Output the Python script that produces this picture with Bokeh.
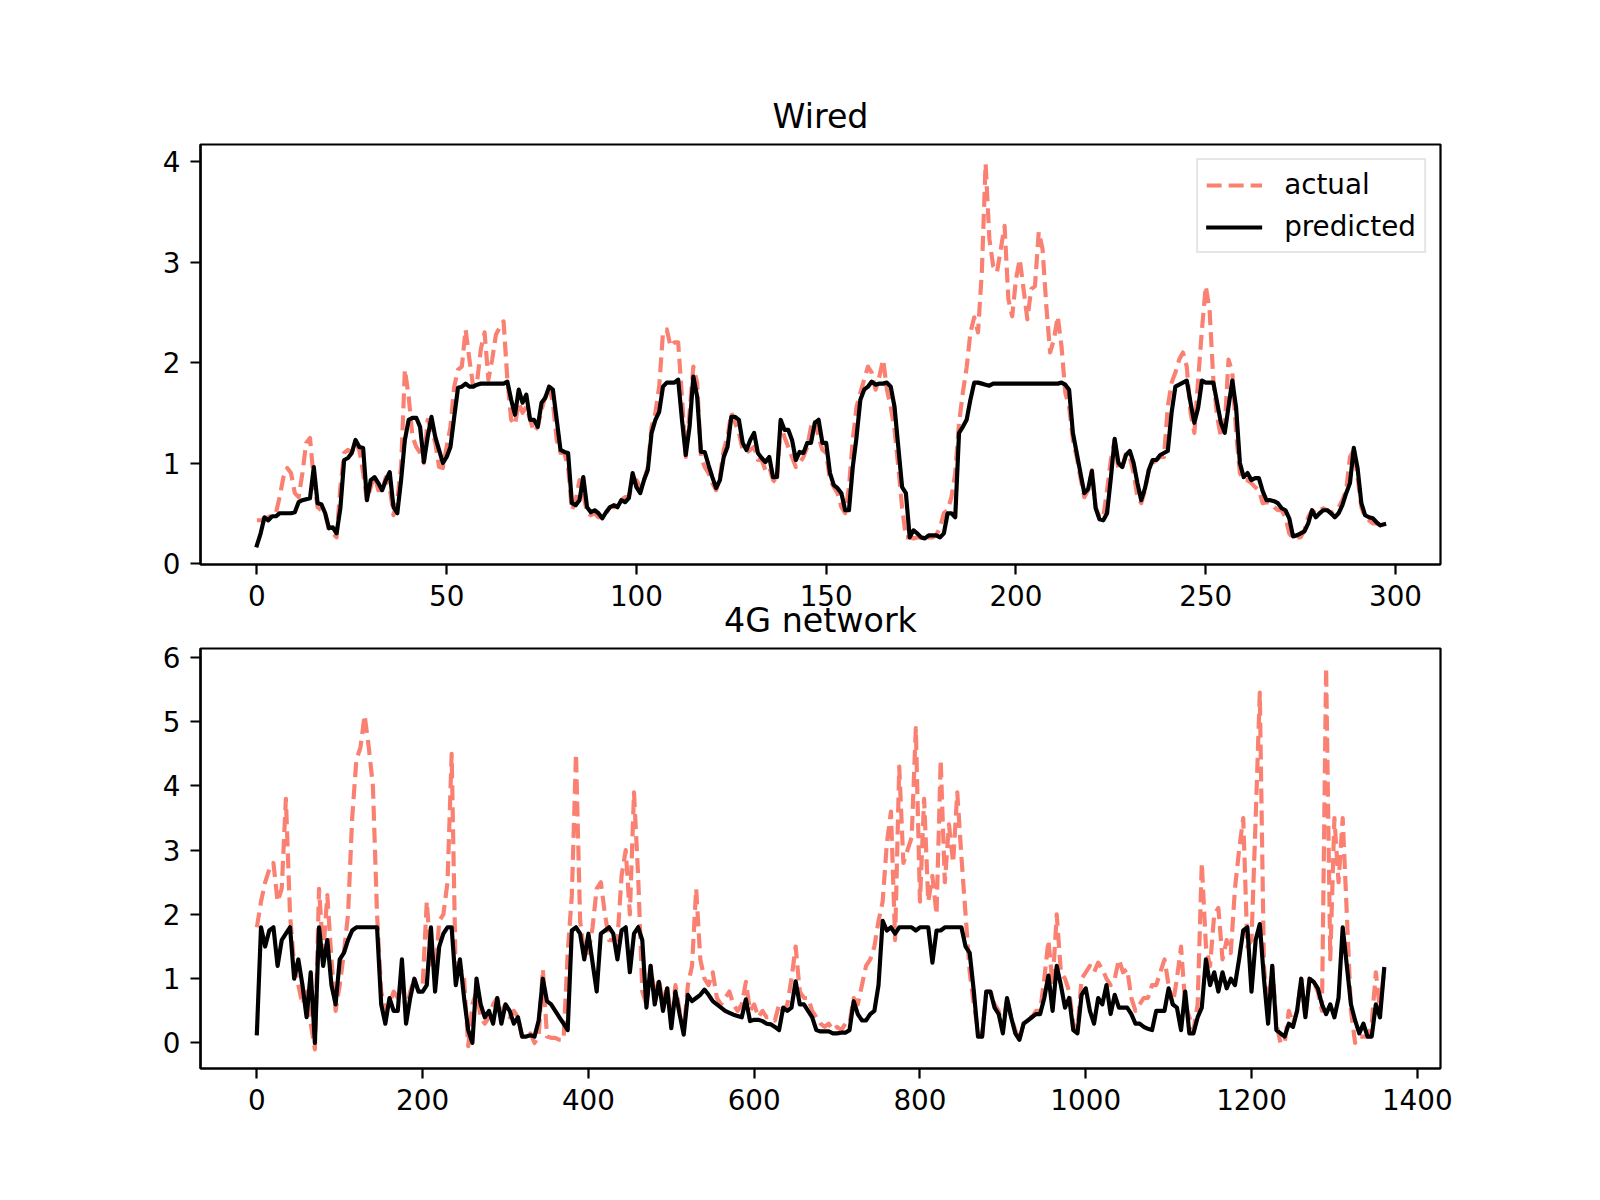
from bokeh.plotting import figure
from bokeh.models import Range1d, FixedTicker, Legend, LegendItem, ColumnDataSource, Title
from bokeh.layouts import column
from bokeh.embed import file_html
from bokeh.resources import INLINE

# ---------------- data ----------------
wired_actual = [
    0.43, 0.43, 0.45, 0.46, 0.48, 0.50, 0.66, 0.86, 0.95, 0.90,
    0.70, 0.66, 0.90, 1.20, 1.25, 0.83, 0.56, 0.53, 0.50, 0.33,
    0.30, 0.26, 0.76, 1.10, 1.13, 1.10, 1.20, 1.13, 0.90, 0.63,
    0.76, 0.88, 0.73, 0.73, 0.86, 0.76, 0.48, 0.63, 0.96, 1.93,
    1.66, 1.26, 1.16, 1.10, 1.00, 1.43, 1.33, 1.20, 0.96, 0.95,
    1.16, 1.36, 1.76, 1.93, 1.96, 2.33, 2.03, 1.76, 1.80, 2.13,
    2.30, 1.83, 2.03, 2.28, 2.35, 2.41, 1.83, 1.43, 1.38, 1.60,
    1.50, 1.56, 1.43, 1.31, 1.36, 1.53, 1.66, 1.76, 1.60, 1.23,
    1.10, 1.10, 0.96, 0.53, 0.63, 0.83, 0.70, 0.50, 0.48, 0.50,
    0.46, 0.46, 0.50, 0.56, 0.56, 0.60, 0.63, 0.66, 0.66, 0.83,
    0.83, 0.76, 0.83, 0.96, 1.36, 1.50, 1.76, 2.30, 2.33, 2.16,
    2.20, 2.20, 1.66, 1.06, 1.50, 1.96, 1.80, 1.06, 0.96, 0.90,
    0.80, 0.73, 0.86, 1.13, 1.26, 1.50, 1.40, 1.30, 1.13, 1.10,
    1.13, 1.16, 1.03, 1.03, 0.93, 0.96, 0.83, 0.80, 1.40, 1.26,
    1.16, 1.06, 0.96, 1.00, 1.06, 1.16, 1.36, 1.43, 1.26, 1.13,
    1.10, 0.83, 0.76, 0.70, 0.56, 0.50, 0.76, 1.23, 1.56, 1.70,
    1.83, 1.96, 1.90, 1.73, 1.86, 2.03, 1.73, 1.56, 1.33, 0.96,
    0.56, 0.26, 0.26, 0.25, 0.26, 0.26, 0.25, 0.26, 0.26, 0.28,
    0.36, 0.50, 0.53, 0.66, 0.90, 1.40, 1.70, 1.95, 2.30, 2.45,
    2.30, 2.90, 3.98, 3.23, 2.96, 2.90, 3.13, 3.36, 2.63, 2.46,
    2.83, 3.03, 2.73, 2.43, 2.73, 2.76, 3.30, 3.13, 2.56, 2.10,
    2.23, 2.46, 2.16, 1.70, 1.56, 1.23, 1.06, 0.85, 0.66, 0.73,
    0.93, 0.56, 0.46, 0.46, 0.73, 1.03, 1.23, 0.93, 0.96, 1.10,
    1.06, 0.90, 0.66, 0.60, 0.73, 0.93, 1.00, 1.03, 1.06, 1.06,
    1.56, 1.80, 1.90, 2.03, 2.10, 1.96, 1.50, 1.30, 1.83, 2.33,
    2.76, 2.53, 1.83, 1.46, 1.26, 1.36, 2.03, 1.90, 1.30, 0.90,
    0.83, 0.83, 0.80, 0.76, 0.73, 0.60, 0.61, 0.60, 0.56, 0.53,
    0.53, 0.46, 0.30, 0.25, 0.26, 0.26, 0.33, 0.46, 0.53, 0.50,
    0.53, 0.55, 0.53, 0.50, 0.53, 0.56, 0.63, 0.73, 1.06, 1.13,
    0.86, 0.56, 0.46, 0.43, 0.40, 0.40, 0.38, 0.38,
]

wired_pred = [
    0.18, 0.30, 0.46, 0.43, 0.47, 0.47, 0.50, 0.50, 0.50, 0.50,
    0.51, 0.61, 0.63, 0.64, 0.65, 0.96, 0.60, 0.59, 0.50, 0.35,
    0.36, 0.30, 0.55, 1.03, 1.05, 1.10, 1.23, 1.16, 1.15, 0.63,
    0.83, 0.86, 0.80, 0.73, 0.83, 0.91, 0.56, 0.50, 0.83, 1.23,
    1.43, 1.45, 1.45, 1.36, 1.01, 1.26, 1.46, 1.26, 1.13, 1.00,
    1.06, 1.16, 1.46, 1.75, 1.76, 1.79, 1.76, 1.76, 1.78, 1.79,
    1.79, 1.79, 1.79, 1.79, 1.79, 1.79, 1.81, 1.63, 1.48, 1.73,
    1.60, 1.68, 1.43, 1.43, 1.36, 1.60, 1.65, 1.76, 1.73, 1.43,
    1.13, 1.11, 1.10, 0.60, 0.58, 0.63, 0.86, 0.56, 0.51, 0.53,
    0.50, 0.45, 0.51, 0.56, 0.58, 0.56, 0.63, 0.61, 0.65, 0.90,
    0.76, 0.70, 0.83, 0.93, 1.30, 1.43, 1.51, 1.76, 1.80, 1.80,
    1.80, 1.83, 1.43, 1.08, 1.36, 1.86, 1.66, 1.11, 1.11, 0.98,
    0.86, 0.75, 0.83, 1.06, 1.16, 1.46, 1.46, 1.43, 1.20, 1.13,
    1.23, 1.30, 1.10, 1.05, 1.01, 1.06, 0.86, 0.86, 1.43, 1.33,
    1.33, 1.23, 1.03, 1.11, 1.10, 1.20, 1.20, 1.40, 1.43, 1.20,
    1.20, 0.90, 0.78, 0.75, 0.70, 0.53, 0.53, 0.96, 1.26, 1.63,
    1.73, 1.76, 1.81, 1.78, 1.79, 1.79, 1.80, 1.76, 1.56, 1.16,
    0.76, 0.70, 0.26, 0.33, 0.30, 0.26, 0.25, 0.28, 0.28, 0.28,
    0.26, 0.30, 0.50, 0.50, 0.46, 1.30, 1.36, 1.43, 1.63, 1.80,
    1.80, 1.79, 1.78, 1.77, 1.79, 1.79, 1.79, 1.79, 1.79, 1.79,
    1.79, 1.79, 1.79, 1.79, 1.79, 1.79, 1.79, 1.79, 1.79, 1.79,
    1.79, 1.79, 1.80, 1.78, 1.73, 1.30, 1.10, 0.90, 0.70, 0.74,
    0.92, 0.55, 0.44, 0.43, 0.50, 0.85, 1.24, 1.00, 0.96, 1.08,
    1.12, 1.00, 0.80, 0.63, 0.75, 0.93, 1.03, 1.03, 1.08, 1.10,
    1.12, 1.50, 1.76, 1.78, 1.80, 1.82, 1.60, 1.40, 1.55, 1.82,
    1.80, 1.80, 1.80, 1.60, 1.40, 1.30, 1.56, 1.82, 1.55, 1.00,
    0.86, 0.90, 0.83, 0.85, 0.85, 0.72, 0.63, 0.63, 0.62, 0.60,
    0.55, 0.53, 0.45, 0.27, 0.28, 0.30, 0.32, 0.40, 0.53, 0.46,
    0.50, 0.53, 0.53, 0.50, 0.46, 0.50, 0.58, 0.70, 0.80, 1.15,
    0.95, 0.60, 0.48, 0.46, 0.45, 0.41, 0.38, 0.39,
]
wired_x = list(range(len(wired_actual)))

g4_x = list(range(0, 1361, 5))
g4_actual = [
    1.8, 2.2, 2.5, 2.7, 2.8, 2.2, 2.4, 3.8, 2.0, 1.2,
    0.9, 0.6, 0.8, 0.3, -0.1, 2.4, 1.4, 2.3, 1.3, 0.5,
    0.9, 1.4, 2.0, 3.5, 4.4, 4.6, 5.1, 4.6, 4.0, 2.0,
    0.8, 0.5, 0.6, 0.8, 0.7, 0.9, 0.5, 0.8, 1.0, 0.8,
    0.9, 2.2, 1.3, 1.0, 1.9, 2.0, 2.5, 4.5, 1.0, 1.2,
    1.0, -0.05, 0.6, 0.8, 0.4, 0.3, 0.4, 0.6, 0.7, 0.5,
    0.6, 0.4, 0.5, 0.4, 0.1, 0.1, 0.15, 0.0, 0.1, 1.15,
    0.1, 0.08, 0.08, 0.05, 0.05, 1.4, 2.3, 4.5, 1.9, 1.4,
    1.4, 1.8, 2.4, 2.5, 2.0, 1.6, 1.6, 1.6, 2.6, 3.0,
    2.0, 3.9, 2.6, 0.8, 0.6, 1.2, 0.7, 1.0, 0.6, 0.9,
    0.3, 0.9, 0.5, 0.2, 0.9, 1.2, 2.4, 1.3, 1.0, 0.9,
    1.1, 0.7, 0.6, 0.7, 0.8, 0.6, 0.5, 0.6, 0.95, 0.5,
    0.6, 0.4, 0.5, 0.4, 0.4, 0.35, 0.6, 0.5, 0.6, 1.0,
    1.5, 0.8, 0.7, 0.7, 0.5, 0.4, 0.3, 0.25, 0.3, 0.2,
    0.25, 0.2, 0.3, 0.3, 0.7, 0.6, 0.9, 1.2, 1.3, 1.5,
    1.9, 2.2, 3.1, 3.6, 1.6, 4.3, 2.8, 3.0, 3.2, 4.9,
    2.2, 3.8, 2.2, 2.6, 2.0, 4.4, 2.5, 3.4, 2.8, 3.9,
    2.9, 2.0, 1.1, 0.6, 0.2, 0.1, 0.8, 0.8, 0.6, 0.5,
    0.2, 0.7, 0.4, 0.2, 0.05, 0.3, 0.4, 0.4, 0.5, 0.5,
    1.0, 1.6, 0.9, 2.0, 1.1, 1.0, 0.8, 0.3, 0.2, 1.0,
    1.1, 1.2, 1.1, 1.25, 1.15, 1.0, 0.9, 1.0, 1.3, 1.1,
    1.15, 0.7, 0.5, 0.6, 0.7, 0.7, 0.9, 0.9, 1.1, 1.3,
    0.9, 0.6, 1.0, 1.5, 0.6, 0.4, 0.2, 0.6, 2.8, 1.5,
    1.2, 2.0, 2.1, 1.3, 1.6, 1.4, 2.4, 3.0, 3.5, 1.5,
    1.6, 3.5, 5.45, 1.2, 0.5, 1.2, 0.3, 0.0, 0.0, 0.5,
    0.3, 0.5, 1.0, 0.4, 1.0, 0.95, 0.8, 0.5, 5.84, 1.3,
    3.5, 2.5, 3.5, 2.0, 0.5, 0.0, 0.1, 0.1, 0.1, 0.3,
    1.1, 0.5, 1.15,
]
g4_pred = [
    0.15, 1.8, 1.5, 1.75, 1.8, 1.2, 1.6, 1.7, 1.8, 1.0,
    1.3, 0.9, 0.4, 1.1, 0.0, 1.8, 1.2, 1.6, 0.9, 0.6,
    1.3, 1.4, 1.6, 1.75, 1.8, 1.8, 1.8, 1.8, 1.8, 1.8,
    0.6, 0.3, 0.7, 0.5, 0.5, 1.3, 0.3, 0.7, 1.0, 0.8,
    0.8, 0.9, 1.8, 0.8, 1.5, 1.7, 1.8, 1.8, 0.9, 1.3,
    0.7, 0.2, 0.0, 1.0, 0.6, 0.4, 0.5, 0.3, 0.7, 0.3,
    0.6, 0.5, 0.3, 0.4, 0.1, 0.1, 0.12, 0.1, 0.35, 1.0,
    0.65, 0.6, 0.5, 0.4, 0.3, 0.2, 1.75, 1.8, 1.7, 1.3,
    1.7, 1.25, 0.8, 1.7, 1.75, 1.8, 1.7, 1.3, 1.75, 1.8,
    1.1, 1.7, 1.8, 1.6, 0.55, 1.2, 0.6, 0.95, 0.5, 0.85,
    0.23, 0.8, 0.45, 0.13, 0.75, 0.65, 0.7, 0.75, 0.83, 0.75,
    0.65, 0.6, 0.55, 0.5, 0.47, 0.44, 0.42, 0.4, 0.68, 0.34,
    0.36, 0.36, 0.34, 0.3, 0.29, 0.25, 0.2, 0.55, 0.5, 0.55,
    0.96, 0.6, 0.6, 0.5, 0.4, 0.2, 0.18, 0.18, 0.18, 0.15,
    0.15, 0.16, 0.16, 0.2, 0.65, 0.45, 0.35, 0.35, 0.45, 0.5,
    0.9, 1.9, 1.75, 1.8, 1.7, 1.8, 1.8, 1.8, 1.8, 1.75,
    1.8, 1.8, 1.8, 1.25, 1.75, 1.75, 1.8, 1.8, 1.8, 1.8,
    1.8, 1.5, 1.4, 0.8, 0.1, 0.1, 0.8, 0.8, 0.55, 0.45,
    0.15, 0.7, 0.4, 0.15, 0.05, 0.3, 0.35, 0.4, 0.45, 0.45,
    0.7, 1.05, 0.5, 1.2, 0.9, 0.55, 0.7, 0.2, 0.15, 0.75,
    0.85, 0.5, 0.3, 0.7, 0.6, 0.9, 0.45, 0.75, 0.55, 0.55,
    0.55, 0.45, 0.3, 0.3, 0.25, 0.22, 0.2, 0.5, 0.5, 0.5,
    0.85, 0.6, 0.55, 0.2, 0.8, 0.15, 0.15, 0.4, 0.55, 1.3,
    0.9, 1.1, 0.8, 1.1, 0.85, 1.0, 0.9, 1.3, 1.75, 1.8,
    0.8, 1.6, 1.85, 1.0, 0.3, 1.2, 0.2, 0.15, 0.1, 0.3,
    0.25, 0.5, 1.0, 0.4, 1.0, 0.95, 0.85, 0.6, 0.45, 0.6,
    0.4, 0.7, 1.8, 1.2, 0.6, 0.35, 0.15, 0.3, 0.1, 0.1,
    0.6, 0.4, 1.15,
]

wired_xticks = [0, 50, 100, 150, 200, 250, 300]
wired_yticks = [0, 1, 2, 3, 4]
g4_xticks = [0, 200, 400, 600, 800, 1000, 1200, 1400]
g4_yticks = [0, 1, 2, 3, 4, 5, 6]
titles = ["Wired", "4G network"]
series_names = ["actual", "predicted"]

# ---------------- styling ----------------
FONT = "DejaVu Sans"
SALMON = "#FA8072"
PT = 200.0 / 72.0
TICK_FS = "%.1fpx" % (10 * PT)
TITLE_FS = "%.1fpx" % (12 * PT)
FRAME_W, FRAME_H = 1240, 420
LEFT, RIGHT = 200, 160


def padded(lo, hi, frac=0.05):
    r = hi - lo
    return lo - frac * r, hi + frac * r


def make_fig(xs, actual, pred, xticks, yticks, title, top, bottom):
    x0, x1 = padded(min(xs), max(xs))
    vals = list(actual) + list(pred)
    y0, y1 = padded(min(vals), max(vals))
    p = figure(frame_width=FRAME_W, frame_height=FRAME_H,
               x_range=Range1d(x0, x1), y_range=Range1d(y0, y1),
               output_backend="svg", toolbar_location=None,
               min_border_left=LEFT, min_border_right=RIGHT,
               min_border_top=top, min_border_bottom=bottom)
    p.title = Title(text=title, align="center", text_font=FONT,
                    text_font_size=TITLE_FS, text_font_style="normal",
                    text_color="black", standoff=18)
    p.grid.visible = False
    p.outline_line_color = "black"
    p.outline_line_width = 0.8 * PT
    p.background_fill_color = "white"
    for ax, ticks in ((p.xaxis, xticks), (p.yaxis, yticks)):
        ax.ticker = FixedTicker(ticks=ticks)
        ax.axis_line_color = "black"
        ax.axis_line_width = 0.8 * PT
        ax.major_tick_line_width = 0.8 * PT
        ax.major_tick_line_color = "black"
        ax.major_tick_out = 10
        ax.major_tick_in = 0
        ax.minor_tick_line_color = None
        ax.major_label_text_font = FONT
        ax.major_label_text_font_size = TICK_FS
        ax.major_label_text_color = "black"
        ax.major_label_standoff = 10
    src = ColumnDataSource(dict(x=xs, a=actual, p=pred))
    ra = p.line("x", "a", source=src, line_color=SALMON, line_width=1.5 * PT,
                line_dash="15 7", line_join="round", line_cap="butt")
    rp = p.line("x", "p", source=src, line_color="black", line_width=1.5 * PT,
                line_join="round", line_cap="square")
    return p, ra, rp


B1, T2 = 60, 64
p1, ra1, rp1 = make_fig(wired_x, wired_actual, wired_pred,
                        wired_xticks, wired_yticks, titles[0], 144, B1)
p2, ra2, rp2 = make_fig(g4_x, g4_actual, g4_pred,
                        g4_xticks, g4_yticks, titles[1], T2, 60)
# second panel overlaps the first one's empty bottom border (transparent)
p2.border_fill_alpha = 0.0
p2.margin = (84 - B1 - T2, 0, 0, 0)

legend = Legend(items=[LegendItem(label=series_names[0], renderers=[ra1]),
                       LegendItem(label=series_names[1], renderers=[rp1])],
                location="top_right", margin=14, padding=8, spacing=9,
                glyph_width=56, glyph_height=28, label_standoff=22,
                label_text_font=FONT, label_text_font_size=TICK_FS,
                label_text_color="black",
                border_line_color="#cccccc", border_line_width=1.0 * PT,
                background_fill_color="white", background_fill_alpha=0.8)
p1.add_layout(legend)

layout = column(p1, p2)
open("out.html", "w").write(file_html(layout, INLINE))
